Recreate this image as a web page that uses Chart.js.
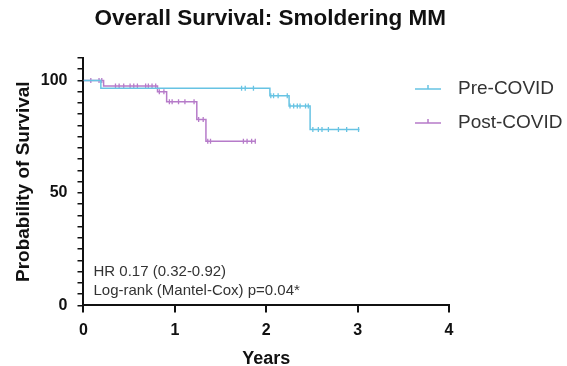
<!DOCTYPE html>
<html>
<head>
<meta charset="utf-8">
<script src="https://cdn.jsdelivr.net/npm/chart.js@4/dist/chart.umd.min.js"></script>
<style>
  html, body { margin: 0; padding: 0; background: #fff; }
  #wrap { width: 567px; height: 366px; }
</style>
</head>
<body>
<div id="wrap"><canvas id="km-chart" width="567" height="366"></canvas></div>
<script>
const titleText = "Overall Survival: Smoldering MM";
const seriesNames = ["Pre-COVID", "Post-COVID"];
const seriesColors = ["#67c3e3", "#b67bc9"];
const noteLines = ["HR 0.17 (0.32-0.92)", "Log-rank (Mantel-Cox) p=0.04*"];
const yTickLabels = [0, 50, 100];

// Kaplan-Meier steps (years, % surviving)
const preTimes = [0, 0.19, 2.04, 2.25, 2.48, 3.02];
const preSurv = [100, 96.5, 93.2, 88.7, 78.2, 78.2];
const postTimes = [0, 0.22, 0.81, 0.91, 1.24, 1.34, 1.88];
const postSurv = [100, 97.5, 95, 90.5, 82.7, 73, 73];

// censored marks
const preCensorTimes = [1.73, 1.77, 1.86, 2.05, 2.08, 2.13, 2.23, 2.26, 2.3, 2.34, 2.37, 2.43, 2.46, 2.51, 2.57, 2.61, 2.68, 2.79, 2.88, 3.01];
const preCensorSurv = [96.5, 96.5, 96.5, 93.2, 93.2, 93.2, 93.2, 88.7, 88.7, 88.7, 88.7, 88.7, 88.7, 78.2, 78.2, 78.2, 78.2, 78.2, 78.2, 78.2];
const postCensorTimes = [0.08, 0.17, 0.2, 0.35, 0.39, 0.44, 0.51, 0.55, 0.59, 0.68, 0.71, 0.75, 0.79, 0.83, 0.88, 0.94, 0.97, 1.04, 1.11, 1.21, 1.26, 1.31, 1.36, 1.39, 1.75, 1.79, 1.84, 1.88];
const postCensorSurv = [100, 100, 100, 97.5, 97.5, 97.5, 97.5, 97.5, 97.5, 97.5, 97.5, 97.5, 97.5, 95, 95, 90.5, 90.5, 90.5, 90.5, 90.5, 82.7, 82.7, 73, 73, 73, 73, 73, 73];

const FONT = '"Liberation Sans", Arial, sans-serif';

function toPoints(xs, ys) {
  return xs.map((x, i) => ({ x: x, y: ys[i] }));
}

const overlay = {
  id: "overlay",
  afterDraw(chart) {
    const { ctx, chartArea } = chart;
    ctx.save();
    // title
    ctx.font = "bold 22.5px " + FONT;
    ctx.fillStyle = "#111";
    ctx.textAlign = "center";
    ctx.textBaseline = "middle";
    ctx.fillText(titleText, (chartArea.left + chartArea.right) / 2 + 4, 19);

    // legend
    ctx.textAlign = "left";
    ctx.font = "19px " + FONT;
    seriesNames.forEach((name, i) => {
      const y = 89 + i * 34;
      const x0 = chartArea.right - 34;
      ctx.strokeStyle = seriesColors[i];
      ctx.lineWidth = 1.5;
      ctx.beginPath();
      ctx.moveTo(x0, y);
      ctx.lineTo(x0 + 26, y);
      ctx.moveTo(x0 + 13, y - 4);
      ctx.lineTo(x0 + 13, y);
      ctx.stroke();
      ctx.fillStyle = "#333";
      ctx.fillText(name, x0 + 43, y);
    });

    // HR / log-rank note
    ctx.font = "15px " + FONT;
    ctx.fillStyle = "#333";
    ctx.fillText(noteLines[0], chartArea.left + 10, chartArea.bottom - 34);
    ctx.fillText(noteLines[1], chartArea.left + 10, chartArea.bottom - 15);
    ctx.restore();
  }
};

const config = {
  type: "line",
  data: {
    datasets: [
      {
        label: seriesNames[0],
        data: toPoints(preTimes, preSurv),
        borderColor: seriesColors[0],
        borderWidth: 1.5,
        stepped: true,
        pointRadius: 0,
        fill: false,
      },
      {
        label: seriesNames[1],
        data: toPoints(postTimes, postSurv),
        borderColor: seriesColors[1],
        borderWidth: 1.5,
        stepped: true,
        pointRadius: 0,
        fill: false,
      },
      {
        label: "pre censored",
        data: toPoints(preCensorTimes, preCensorSurv),
        showLine: false,
        pointStyle: "line",
        rotation: 90,
        pointRadius: 2.5,
        borderColor: seriesColors[0],
        borderWidth: 1.3,
      },
      {
        label: "post censored",
        data: toPoints(postCensorTimes, postCensorSurv),
        showLine: false,
        pointStyle: "line",
        rotation: 90,
        pointRadius: 2.5,
        borderColor: seriesColors[1],
        borderWidth: 1.3,
      },
    ],
  },
  options: {
    responsive: false,
    animation: false,
    layout: {
      padding: { left: 12, right: 118, top: 58, bottom: -4 },
    },
    plugins: {
      legend: { display: false },
      title: { display: false },
      tooltip: { enabled: false },
    },
    scales: {
      x: {
        type: "linear",
        min: 0,
        max: 4,
        ticks: {
          stepSize: 1,
          color: "#111",
          font: { family: FONT, size: 16, weight: "bold", lineHeight: 1 },
          padding: 10,
        },
        grid: {
          drawOnChartArea: false,
          drawTicks: true,
          tickLength: 7,
          color: "#111",
          lineWidth: 2,
        },
        border: { color: "#111", width: 2 },
        title: {
          display: true,
          text: "Years",
          color: "#111",
          font: { family: FONT, size: 18, weight: "bold" },
          padding: { top: 0, bottom: 0 },
        },
      },
      y: {
        min: 0,
        max: 110,
        ticks: {
          stepSize: 5,
          autoSkip: false,
          color: "#111",
          font: { family: FONT, size: 16, weight: "bold" },
          padding: 10,
          callback: (v) => (yTickLabels.includes(v) ? String(v) : ""),
        },
        grid: {
          drawOnChartArea: false,
          drawTicks: true,
          tickLength: 6,
          color: "#111",
          lineWidth: 1.5,
        },
        border: { color: "#111", width: 2 },
        title: {
          display: true,
          text: "Probability of Survival",
          color: "#111",
          font: { family: FONT, size: 19, weight: "bold" },
          padding: { top: 0, bottom: -4 },
        },
      },
    },
  },
  plugins: [overlay],
};

new Chart(document.getElementById("km-chart"), config);
</script>
</body>
</html>
